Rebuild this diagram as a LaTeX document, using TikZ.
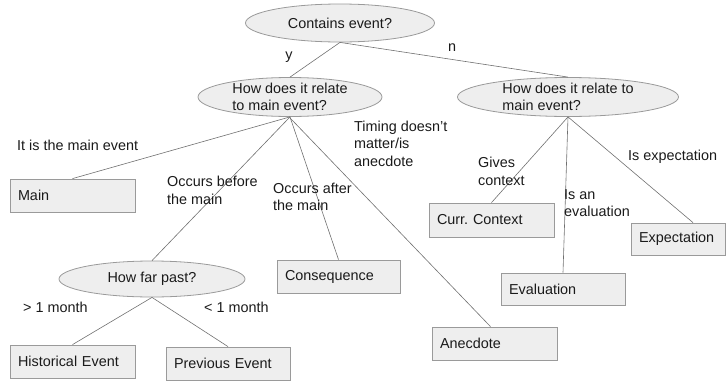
\documentclass[tikz,border=0pt]{standalone}
\usepackage{fontspec}
\setmainfont{Liberation Sans}
\usetikzlibrary{shapes.geometric}
\definecolor{boxfill}{HTML}{EEEEEE}
\definecolor{boxline}{HTML}{9A9A9A}
\definecolor{conn}{HTML}{707070}
\definecolor{txt}{HTML}{1A1A1A}
\frenchspacing
\begin{document}
\begin{tikzpicture}[x=1pt,y=-1pt,
  every node/.style={font=\fontsize{14.4}{17.5}\selectfont, text=txt},
  ell/.style={ellipse, draw=boxline, fill=boxfill, line width=0.8pt, inner sep=0pt},
  box/.style={rectangle, draw=boxline, fill=boxfill, line width=0.8pt, align=left, inner xsep=8pt, inner ysep=0pt},
  lbl/.style={anchor=west, align=left, inner sep=0pt},
  link/.style={draw=conn, line width=0.6pt}]
\useasboundingbox (0,0) rectangle (726,383);
% ellipses
\node[ell, minimum width=189pt, minimum height=38pt] (top) at (340,23) {};
\node[inner sep=0pt] (topt) at (top) {Contains event?};
\node[ell, minimum width=184pt, minimum height=39pt] (e2) at (290,97) {};
\node[inner sep=0pt, align=left] (e2t) at (e2) {How does it relate\\to main event?};
\node[ell, minimum width=221pt, minimum height=39pt] (e3) at (568,97) {};
\node[inner sep=0pt, align=left] (e3t) at (e3) {How does it relate to\\main event?};
\node[ell, minimum width=186pt, minimum height=36pt] (far) at (152,279) {};
\node[inner sep=0pt] (fart) at (far) {How far past?};
% boxes
\node[box, text width=109pt, minimum height=33pt] (main) at (72.5,195.5) {Main};
\node[box, text width=109pt, minimum height=34pt] (curr) at (491.5,220) {Curr.\ Context};
\node[box, text width=78pt, minimum height=32pt] (expect) at (678,239) {Expectation};
\node[box, text width=108pt, minimum height=32pt] (eval) at (563,289) {Evaluation};
\node[box, text width=109pt, minimum height=33pt] (anec) at (494.5,343.5) {Anecdote};
\node[box, text width=107pt, minimum height=33pt] (conseq) at (338.5,276.5) {Consequence};
\node[box, text width=109pt, minimum height=33pt] (hist) at (72.5,361.5) {Historical Event};
\node[box, text width=108pt, minimum height=33pt] (prev) at (228,363.5) {Previous Event};
% connectors
\draw[link] (top.south) -- (e2.north);
\draw[link] (top.south) -- (e3.north);
\draw[link] (e2.south) -- (main.north);
\draw[link] (e2.south) -- (far.north);
\draw[link] (e2.south) -- (conseq.north);
\draw[link] ([yshift=-1pt]e2.south) -- ([xshift=-4pt]anec.north);
\draw[link] (e3.south) -- (curr.north);
\draw[link] (e3.south) -- (eval.north);
\draw[link] (e3.south) -- ([xshift=15pt]expect.north);
\draw[link] (far.south) -- (hist.north);
\draw[link] (far.south) -- (prev.north);
% labels
\node[inner sep=0pt] (ly) at (289,57) {y};
\node[inner sep=0pt] (ln) at (452,48) {n};
\node[lbl] (l1) at (17,145) {It is the main event};
\node[lbl] (l2) at (167,190.5) {Occurs before\\the main};
\node[lbl] (l3) at (273,197) {Occurs after\\the main};
\node[lbl] (l4) at (354,143.5) {Timing doesn’t\\matter/is\\anecdote};
\node[lbl] (l5) at (478,171.5) {Gives\\context};
\node[lbl] (l6) at (564,203) {Is an\\evaluation};
\node[lbl] (l7) at (628,157) {Is expectation};
\node[lbl] (l8) at (23,307) {> 1 month};
\node[lbl] (l9) at (204,307) {< 1 month};
\end{tikzpicture}
\end{document}
